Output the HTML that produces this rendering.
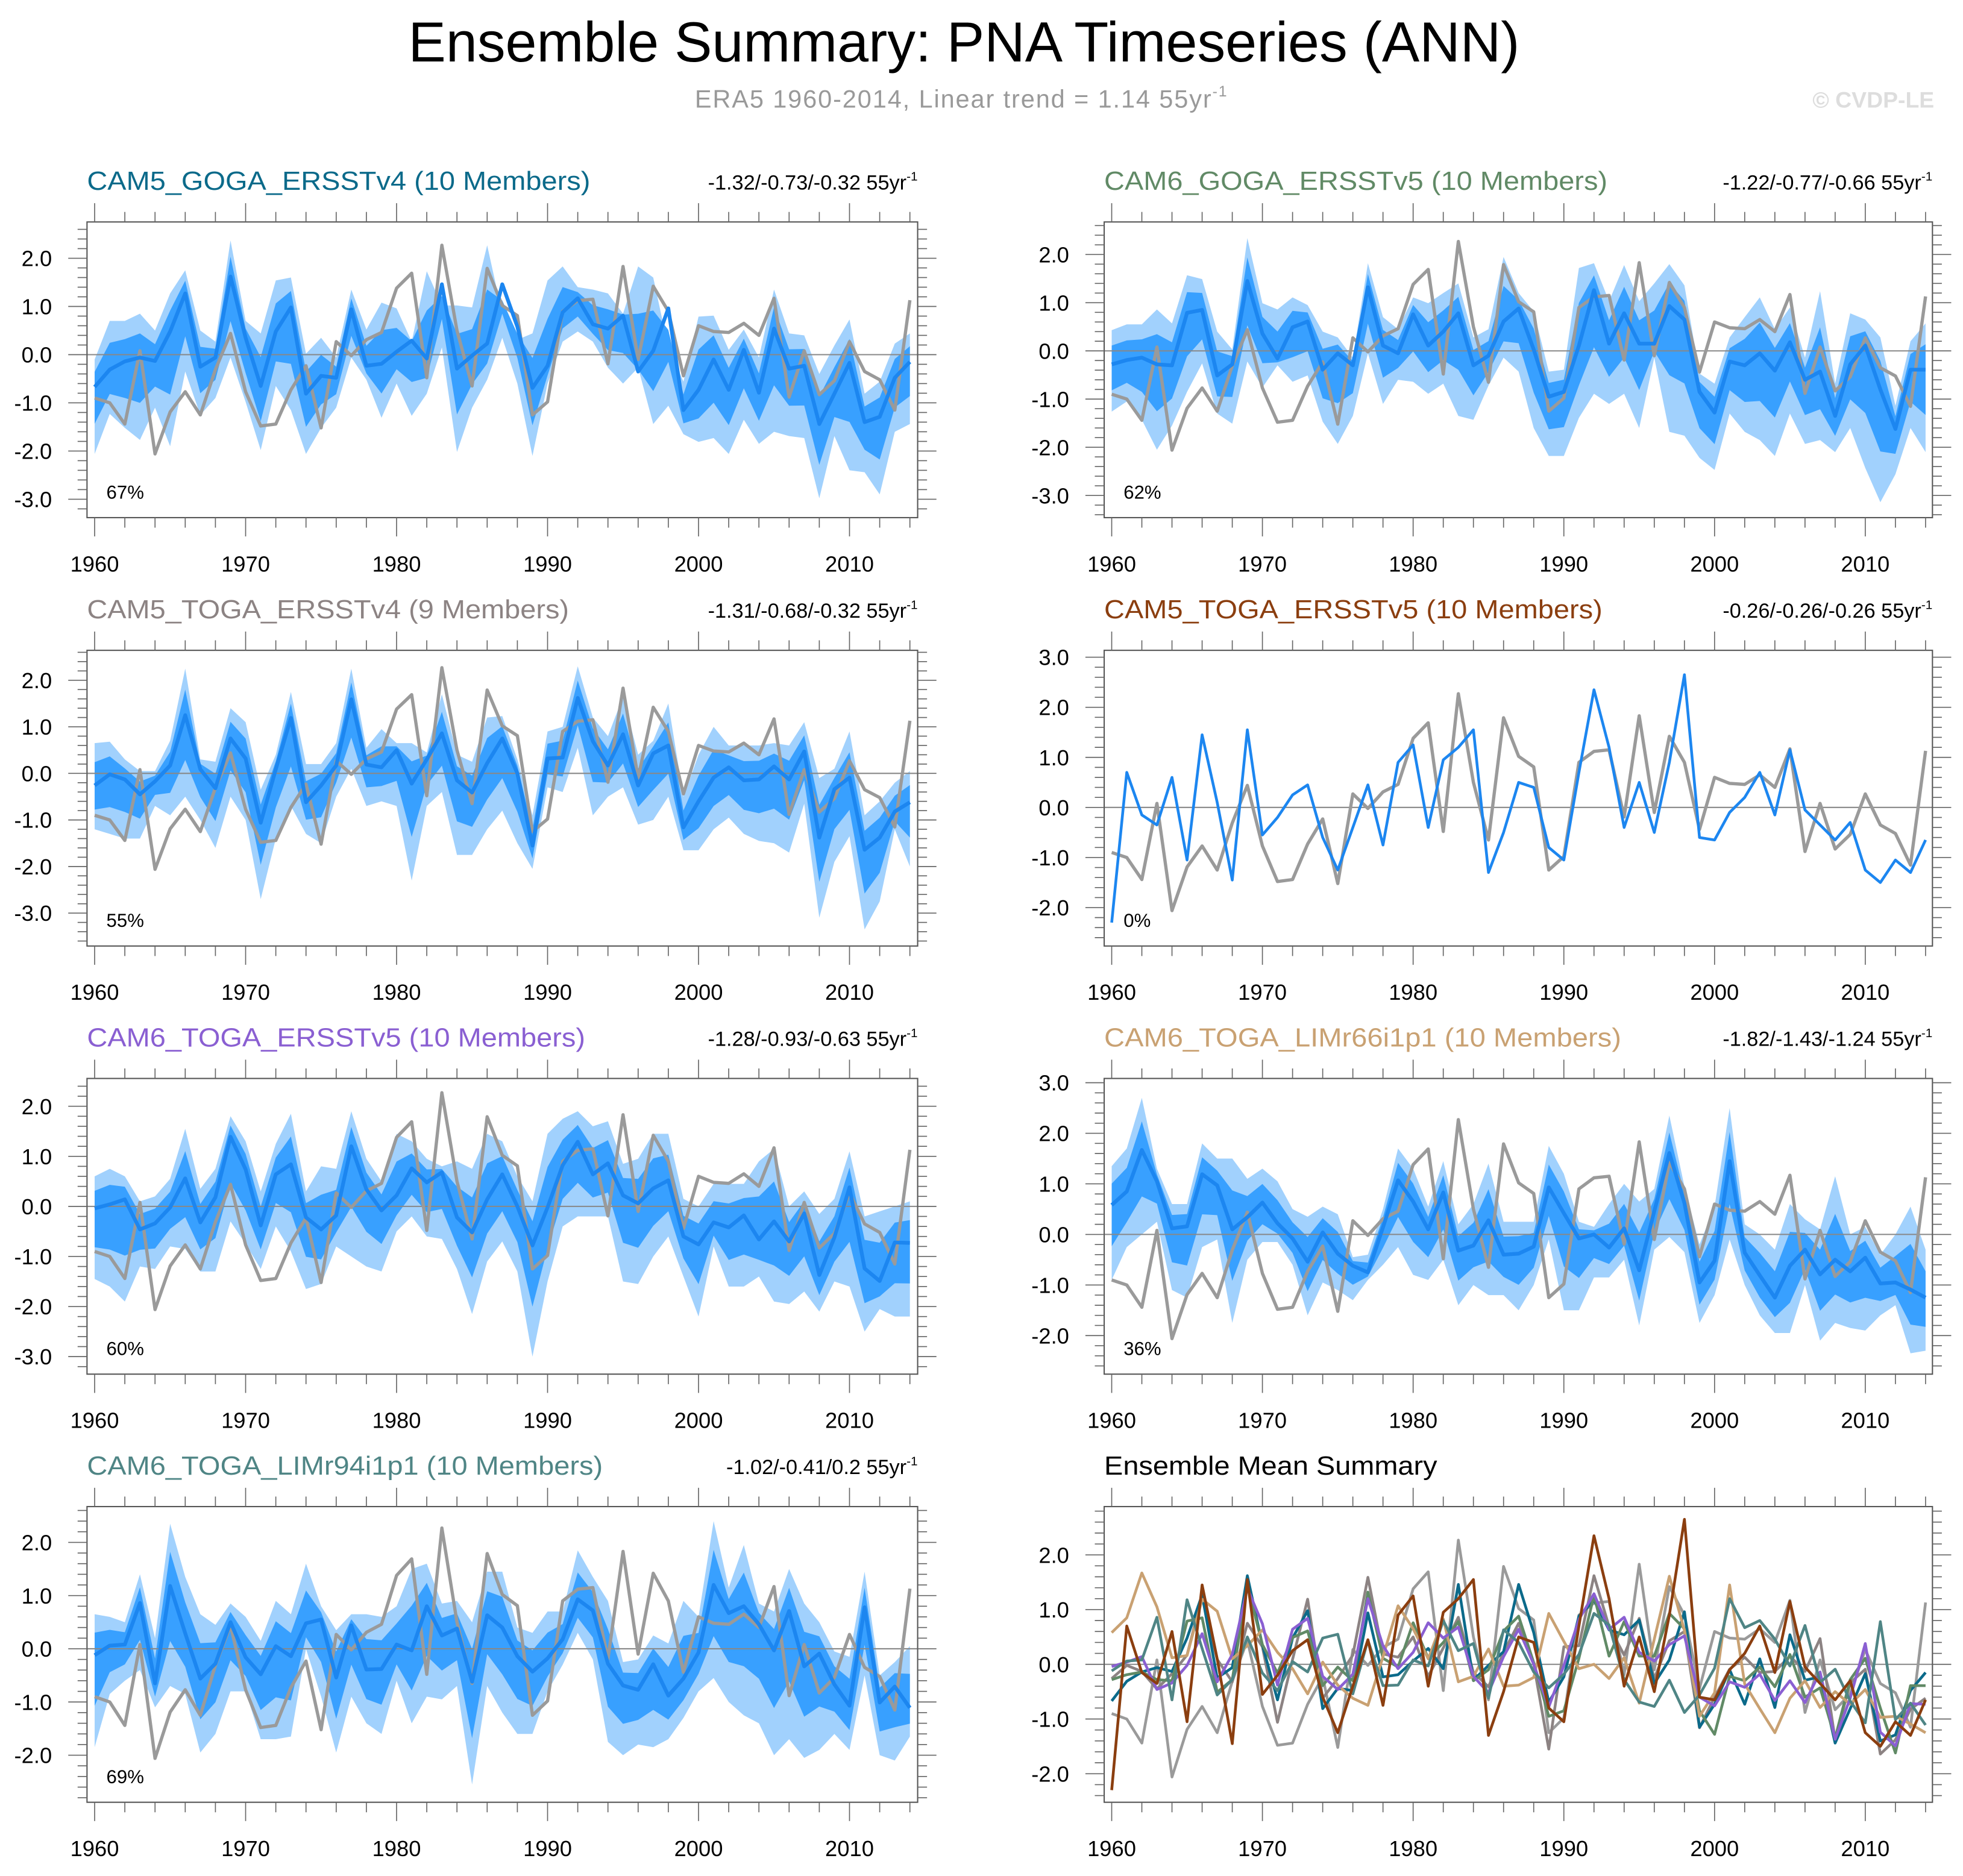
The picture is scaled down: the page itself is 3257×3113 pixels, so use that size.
<!DOCTYPE html>
<html><head><meta charset="utf-8"><title>Ensemble Summary: PNA Timeseries (ANN)</title>
<style>html,body{margin:0;padding:0;background:#fff}svg{display:block}text{font-family:"Liberation Sans",Arial,sans-serif}</style>
</head><body>
<svg id="fig" xmlns="http://www.w3.org/2000/svg" width="3257" height="3113" viewBox="0 0 1568 1498.6" preserveAspectRatio="none">
<rect x="0" y="0" width="1568" height="1498.6" fill="#fff"/>
<text x="770" y="49" font-size="45" text-anchor="middle" fill="#000">Ensemble Summary: PNA Timeseries (ANN)</text>
<text x="555" y="86" font-size="20" fill="#999" textLength="425">ERA5 1960-2014, Linear trend = 1.14 55yr<tspan font-size="12" dy="-9">-1</tspan></text>
<text x="1545" y="86" font-size="18" font-weight="bold" text-anchor="end" fill="#ddd">© CVDP-LE</text>
<g id="panels"></g>
</svg>
<script>
const years = [];
for (let y = 1960; y <= 2014; y++) years.push(y);

const era5 = [-0.9,-1.0,-1.44,0.08,-2.06,-1.19,-0.77,-1.25,-0.31,0.44,-0.77,-1.48,-1.44,-0.73,-0.23,-1.52,0.27,-0.02,0.31,0.46,1.38,1.69,-0.48,2.27,0.5,-0.65,1.79,1.02,0.81,-1.25,-0.98,0.9,1.12,1.15,-0.19,1.83,-0.1,1.42,0.9,-0.44,0.6,0.48,0.46,0.65,0.4,1.17,-0.88,0.08,-0.83,-0.54,0.27,-0.35,-0.52,-1.15,1.13];

const p1Mean = [-0.67,-0.31,-0.14,-0.06,-0.13,0.48,1.27,-0.25,-0.06,1.62,0.35,-0.65,0.48,0.98,-0.81,-0.44,-0.48,0.94,-0.23,-0.19,0.06,0.29,-0.08,1.46,-0.29,-0.02,0.23,1.46,0.58,-0.69,-0.23,0.88,1.17,0.63,0.54,0.81,-0.35,0.08,0.96,-1.15,-0.73,-0.1,-0.73,0.1,-0.79,0.54,-0.29,-0.23,-1.44,-0.81,-0.17,-1.4,-1.29,-0.48,-0.15];
const p1Hi = [-0.1,0.7,0.7,0.85,0.5,1.27,1.75,0.5,0.27,2.37,0.7,0.44,1.54,1.6,0.02,0.35,-0.06,1.35,0.52,1.08,0.96,0.27,1.73,1.02,1.02,0.98,2.27,0.85,0.31,0.44,1.54,1.83,1.4,1.35,1.27,0.85,1.83,1.6,0.15,-0.56,0.79,0.81,0.1,0.52,-0.06,1.35,0.44,0.4,-0.4,0.19,0.73,-0.81,-0.56,0.23,0.44];
const p1Lo = [-2.06,-1.23,-1.52,-1.77,-1.1,-1.9,-0.35,-1.25,-0.9,-0.06,-0.98,-1.98,-0.65,-1.15,-2.06,-1.52,-1.1,-0.06,-0.52,-1.31,-0.6,-1.27,-0.81,0.15,-2.02,-1.1,-0.52,0.35,-0.6,-2.1,-0.6,0.27,0.48,0.27,-0.27,-0.6,-0.27,-1.44,-1.06,-1.65,-1.81,-1.73,-2.06,-1.35,-1.85,-1.6,-1.69,-1.73,-2.98,-1.69,-2.4,-2.44,-2.9,-1.6,-1.44];

const p2Mean = [-0.28,-0.19,-0.14,-0.28,-0.3,0.79,0.85,-0.51,-0.28,1.45,0.36,-0.16,0.49,0.61,-0.39,-0.05,-0.3,1.32,0.11,-0.05,0.76,0.11,0.4,0.78,-0.3,-0.1,0.61,0.88,0.03,-0.95,-0.85,0.11,1.26,0.15,0.78,0.15,0.15,0.93,0.65,-0.85,-1.28,-0.22,-0.3,-0.05,-0.41,0.18,-0.6,-0.43,-1.35,-0.28,0.11,-0.8,-1.62,-0.39,-0.39];
const p2Hi = [0.43,0.55,0.55,0.86,0.57,1.57,1.49,0.4,0.03,2.34,0.99,0.86,1.11,0.95,0.4,0.28,-0.14,1.82,0.7,0.45,1.11,0.99,1.2,1.4,0.28,0.45,1.95,1.2,0.82,-0.43,-0.39,1.72,1.82,1.03,1.78,1.03,1.4,1.8,1.36,-0.47,-0.68,0.28,0.7,1.11,0.45,0.9,-0.14,1.24,-0.68,0.78,0.65,0.28,-1.14,0.2,0.57];
const p2Lo = [-1.26,-1.05,-1.43,-2.05,-1.55,-0.85,-0.26,-1.3,-1.51,-0.22,-0.76,-0.3,-0.64,-0.51,-1.47,-1.93,-1.35,-0.05,-1.1,-0.6,-0.64,-0.89,-0.68,-1.35,-1.43,-0.72,-0.14,-0.43,-1.6,-2.18,-2.18,-1.39,-0.89,-1.1,-0.89,-1.6,-0.14,-1.68,-1.76,-2.22,-2.47,-1.3,-1.68,-1.85,-2.18,-1.3,-1.93,-1.85,-2.1,-1.6,-2.43,-3.14,-2.56,-1.6,-2.1];

const p3Mean = [-0.26,-0.02,-0.13,-0.45,-0.17,0.17,1.25,0.09,-0.32,0.75,0.32,-1.06,0.09,1.19,-0.62,-0.26,0.17,1.59,0.19,0.13,0.5,-0.22,0.3,0.86,-0.15,-0.41,0.22,0.75,0.0,-1.55,0.32,0.34,1.62,0.69,0.17,0.84,-0.26,0.43,0.6,-1.16,-0.6,-0.09,0.13,-0.15,-0.13,0.15,-0.13,0.47,-1.38,-0.34,-0.09,-1.64,-1.38,-0.82,-0.62];
const p3Hi = [0.65,0.68,0.3,0.05,0.05,0.7,2.25,0.3,0.25,1.4,1.1,-0.35,0.4,1.75,0.2,0.2,0.65,2.25,0.55,0.95,0.65,0.65,0.45,1.7,0.4,0.25,1.2,1.23,0.3,-0.9,0.9,1.0,2.3,1.2,0.8,1.65,0.4,0.7,1.5,-0.5,0.4,1.0,0.6,0.6,0.6,0.65,0.6,1.1,-0.1,0.1,0.9,-0.9,-0.6,-0.2,0.05];
const p3Lo = [-1.2,-1.3,-1.4,-1.4,-0.7,-0.9,-0.5,-1.0,-1.6,-0.5,-1.0,-2.7,-1.4,-0.7,-1.3,-1.5,-0.5,0.1,-0.7,-0.6,-0.7,-2.3,-0.7,-0.4,-1.75,-1.75,-1.2,-0.8,-1.5,-2.05,-0.3,-0.4,0.55,-0.9,-0.5,-0.3,-1.1,-1.0,-0.5,-1.65,-1.65,-1.2,-0.95,-1.3,-1.45,-1.5,-1.7,-0.65,-3.1,-1.9,-1.35,-3.35,-2.75,-1.2,-2.0];

const p4Member = [-2.3,0.7,-0.15,-0.35,0.6,-1.05,1.45,0.1,-1.45,1.55,-0.55,-0.2,0.25,0.45,-0.6,-1.25,-0.4,0.45,-0.75,0.9,1.25,-0.4,0.95,1.2,1.55,-1.3,-0.5,0.5,0.4,-0.8,-1.05,0.7,2.35,1.2,-0.4,0.5,-0.5,0.9,2.65,-0.6,-0.65,-0.1,0.2,0.7,-0.15,1.15,-0.05,-0.35,-0.65,-0.3,-1.25,-1.5,-1.05,-1.3,-0.65];

const p5Mean = [-0.04,0.04,0.14,-0.46,-0.34,-0.02,0.56,-0.32,0.18,1.39,0.74,-0.38,0.64,0.84,-0.22,-0.46,-0.18,1.2,0.34,-0.08,0.22,0.76,0.48,0.68,-0.22,-0.52,0.14,0.64,0.0,-0.78,-0.02,0.82,1.29,0.64,0.86,0.22,0.06,0.36,0.52,-0.6,-0.76,-0.32,-0.42,-0.18,-0.66,-0.3,-0.7,-0.14,-1.37,-0.62,0.38,-1.24,-1.49,-0.72,-0.73];
const p5Hi = [0.6,0.75,0.6,0.1,0.2,0.55,1.55,0.35,0.75,1.8,1.3,0.3,1.25,1.85,0.3,0.8,0.75,1.9,0.95,0.5,1.45,1.3,0.95,0.8,0.9,0.75,1.45,1.3,0.6,0.1,1.45,1.75,1.9,1.6,1.7,0.85,0.95,1.45,1.45,0.15,0.0,0.45,0.45,0.45,0.9,1.15,0.0,0.3,-0.15,0.15,1.1,-0.2,-0.1,0.0,0.1];
const p5Lo = [-1.45,-1.6,-1.9,-1.2,-1.25,-0.8,-0.85,-1.3,-1.3,-0.3,-0.75,-1.25,-0.4,-0.9,-1.65,-1.55,-0.8,-1.0,-1.2,-1.3,-0.5,-0.2,-0.6,-0.65,-1.25,-2.15,-1.1,-0.7,-1.3,-3.0,-1.5,-0.4,-0.2,-0.2,-0.2,-1.5,-1.55,-1.0,-0.6,-1.4,-2.2,-0.8,-1.6,-1.6,-1.4,-1.9,-1.95,-1.7,-2.1,-1.5,-1.6,-2.5,-2.05,-2.2,-2.2];

const p6Mean = [0.58,0.85,1.67,1.05,0.12,0.16,1.19,0.97,0.1,0.34,0.63,0.22,-0.08,-0.54,0.04,-0.38,-0.62,-0.75,0.14,1.07,0.65,0.1,0.83,-0.32,-0.22,0.28,-0.4,-0.38,-0.24,0.93,0.42,-0.08,0.0,-0.26,0.12,-0.71,0.46,1.61,0.62,-0.95,-0.52,1.45,-0.36,-0.81,-1.25,-0.62,-0.3,-0.79,-0.5,-0.73,-0.46,-0.97,-0.95,-1.09,-1.25];
const p6Hi = [1.35,1.7,2.7,1.3,0.6,0.6,1.8,1.5,1.5,1.1,1.3,1.05,0.5,0.35,0.55,0.4,-0.45,-0.4,0.5,1.7,1.3,0.55,1.45,0.2,0.6,1.4,0.25,0.25,0.25,1.75,1.2,0.25,0.15,0.6,1.0,0.65,0.9,2.35,0.95,-0.2,0.55,2.5,0.2,0.0,-0.3,0.6,0.3,0.1,1.15,0.0,0.15,-0.4,0.0,0.55,-0.3];
const p6Lo = [-0.9,-0.25,0.0,0.25,-1.1,-1.25,-0.25,-0.1,-1.75,-0.5,-0.15,-0.15,-0.6,-1.6,-0.95,-1.1,-1.3,-0.9,-0.6,-0.25,-0.8,-0.9,-0.5,-1.4,-1.0,-1.2,-1.2,-1.5,-1.0,-0.1,-1.5,-1.5,-0.85,-0.85,-0.5,-1.8,-0.3,-0.05,-0.35,-1.75,-1.2,-0.1,-1.0,-1.6,-1.95,-1.95,-1.0,-2.1,-1.75,-1.85,-1.9,-1.6,-1.4,-2.35,-2.3];

const p7Mean = [-0.12,0.06,0.08,0.86,-0.65,1.18,0.29,-0.56,-0.28,0.5,-0.16,-0.48,0.05,-0.14,0.48,0.55,-0.54,0.44,-0.39,-0.38,0.08,-0.03,0.8,0.25,0.38,-0.62,0.63,0.4,-0.14,-0.43,-0.18,0.18,0.93,0.72,-0.28,-0.69,-0.77,-0.29,-0.88,-0.56,-0.07,1.2,0.67,0.8,0.46,-0.03,0.71,-0.33,-0.09,-0.67,-1.07,0.78,-1.01,-0.71,-1.11];
const p7Hi = [0.65,0.6,0.5,1.4,0.2,2.35,1.35,0.65,0.45,0.85,0.6,0.15,0.9,0.65,1.6,0.8,0.35,0.65,0.65,0.6,0.8,1.5,1.6,0.85,0.9,0.5,1.45,1.45,0.4,0.3,0.7,0.7,1.85,1.35,0.9,-0.25,-0.2,0.25,0.1,0.9,0.6,2.4,1.15,1.95,0.85,0.7,1.5,0.85,0.5,-0.05,-0.15,1.45,-0.5,-0.25,0.05];
const p7Lo = [-1.85,-0.85,-0.6,-0.4,-1.1,-0.7,-0.85,-1.95,-1.6,-0.8,-0.8,-1.7,-1.7,-1.65,0.0,-0.9,-1.95,-0.9,-1.4,-1.6,-0.6,-1.4,-0.9,-0.95,-0.7,-2.55,-0.7,-1.2,-1.6,-1.6,-0.8,-0.3,0.3,-0.2,-1.75,-2.0,-1.8,-1.85,-1.7,-1.3,-0.8,-0.55,-1.0,-1.25,-1.4,-2.0,-1.7,-2.05,-1.9,-1.6,-1.9,-0.5,-2.0,-2.1,-1.65];

const ticks23 = [2, 1, 0, -1, -2, -3];
const ticks32 = [3, 2, 1, 0, -1, -2];
const ticks22 = [2, 1, 0, -1, -2];
const xTickLabels = [1960, 1970, 1980, 1990, 2000, 2010];
const titles = ["CAM5_GOGA_ERSSTv4 (10 Members)","CAM6_GOGA_ERSSTv5 (10 Members)","CAM5_TOGA_ERSSTv4 (9 Members)","CAM5_TOGA_ERSSTv5 (10 Members)","CAM6_TOGA_ERSSTv5 (10 Members)","CAM6_TOGA_LIMr66i1p1 (10 Members)","CAM6_TOGA_LIMr94i1p1 (10 Members)","Ensemble Mean Summary"];
const trends = ["-1.32/-0.73/-0.32 55yr","-1.22/-0.77/-0.66 55yr","-1.31/-0.68/-0.32 55yr","-0.26/-0.26/-0.26 55yr","-1.28/-0.93/-0.63 55yr","-1.82/-1.43/-1.24 55yr","-1.02/-0.41/0.2 55yr",""];
const pcts = ["67%","62%","55%","0%","60%","36%","69%",""];

/* layout (not data) */
const NS = "http://www.w3.org/2000/svg";
const COLS = [{x0:69.5,x1:733,xa:75.6,xb:726.8},{x0:882,x1:1543.6,xa:888,xb:1538.1}];
const ROWS = [177.3,519.5,861.5,1203.5];
const BOXH = 236.2;
const DARKF = 0.55;
const titleW = [402,402,385,398,398,413,412,266];
const colors = ["#0b6a8a","#618a66","#8c8383","#8b3e0f","#8a5fd2","#c9a172","#4f8585","#000000"];
const panels = [
 {c:0,r:0,zero:283.3,unit:38.5,ticks:ticks23,mean:p1Mean,hi:p1Hi,lo:p1Lo},
 {c:1,r:0,zero:280.3,unit:38.5,ticks:ticks23,mean:p2Mean,hi:p2Hi,lo:p2Lo},
 {c:0,r:1,zero:617.8,unit:37.2,ticks:ticks23,mean:p3Mean,hi:p3Hi,lo:p3Lo},
 {c:1,r:1,zero:645,unit:40,ticks:ticks32,member:p4Member},
 {c:0,r:2,zero:963.7,unit:40,ticks:ticks23,mean:p5Mean,hi:p5Hi,lo:p5Lo},
 {c:1,r:2,zero:986.1,unit:40.4,ticks:ticks32,mean:p6Mean,hi:p6Hi,lo:p6Lo},
 {c:0,r:3,zero:1317.1,unit:42.5,ticks:ticks22,mean:p7Mean,hi:p7Hi,lo:p7Lo},
 {c:1,r:3,zero:1329.5,unit:43.7,ticks:ticks22,summary:true}
];

function mk(tag, attrs, parent) {
  const e = document.createElementNS(NS, tag);
  for (const k in attrs) e.setAttribute(k, attrs[k]);
  parent.appendChild(e);
  return e;
}
const root = document.getElementById("panels");

panels.forEach((p, i) => {
  const col = COLS[p.c];
  const top = ROWS[p.r], bot = top + BOXH;
  const xs = yr => col.xa + (yr - 1960) * (col.xb - col.xa) / 54;
  const ys = v => p.zero - v * p.unit;
  const g = mk("g", {}, root);
  
  

  const cid = "clip" + i;
  const cp = mk("clipPath", {id: cid}, g);
  mk("rect", {x: col.x0, y: top, width: col.x1 - col.x0, height: BOXH}, cp);
  const plot = mk("g", {"clip-path": "url(#" + cid + ")"}, g);

  const t = mk("text", {x: col.x0, y: top - 25.6, "font-size": 21, fill: colors[i], textLength: titleW[i], lengthAdjust: "spacingAndGlyphs"}, g);
  t.textContent = titles[i];
  
  
  if (trends[i]) {
    const tr = mk("text", {x: col.x1, y: top - 26, "font-size": 16.5, "text-anchor": "end", fill: "#000"}, g);
    tr.textContent = trends[i];
    const sup = mk("tspan", {"font-size": 10, dy: -7}, tr);
    sup.textContent = "-1";
    
    
  }

  const band = (hiArr, loArr, fill, name) => {
    let d = "";
    years.forEach((yr, k) => { d += (k ? "L" : "M") + xs(yr).toFixed(2) + "," + ys(hiArr[k]).toFixed(2); });
    for (let k = years.length - 1; k >= 0; k--) d += "L" + xs(years[k]).toFixed(2) + "," + ys(loArr[k]).toFixed(2);
    const e = mk("path", {d: d + "Z", fill: fill}, plot);
    
    
  };
  const line = (arr, stroke, w, name) => {
    let d = "";
    years.forEach((yr, k) => { d += (k ? "L" : "M") + xs(yr).toFixed(2) + "," + ys(arr[k]).toFixed(2); });
    const e = mk("path", {d: d, fill: "none", stroke: stroke, "stroke-width": w, "stroke-linejoin": "round"}, plot);
    
    
  };

  if (p.mean) {
    band(p.hi, p.lo, "#a1d1fd", "ensemble-range-band");
    const dHi = p.mean.map((m, k) => m + DARKF * (p.hi[k] - m));
    const dLo = p.mean.map((m, k) => m + DARKF * (p.lo[k] - m));
    band(dHi, dLo, "#38a0ff", "ensemble-iqr-band");
  }
  const z = mk("line", {x1: col.x0, x2: col.x1, y1: ys(0), y2: ys(0), stroke: "#888", "stroke-width": 1}, plot);
  
  

  if (p.summary) {
    line(era5, "#9a9a9a", 2.2, "era5-line");
    line(p3Mean, colors[2], 2.2, "cam5-toga-ersstv4-mean");
    line(p1Mean, colors[0], 2.2, "cam5-goga-ersstv4-mean");
    line(p2Mean, colors[1], 2.2, "cam6-goga-ersstv5-mean");
    line(p6Mean, colors[5], 2.2, "cam6-toga-limr66-mean");
    line(p5Mean, colors[4], 2.2, "cam6-toga-ersstv5-mean");
    line(p7Mean, colors[6], 2.2, "cam6-toga-limr94-mean");
    line(p4Member, colors[3], 2.2, "cam5-toga-ersstv5-mean");
  } else {
    line(era5, "#9a9a9a", 2.6, "era5-line");
    if (p.mean) line(p.mean, "#1c86f0", 3, "ensemble-mean-line");
    else line(p.member, "#1c86f0", 2.2, "member-line");
  }

  const b = mk("rect", {x: col.x0, y: top, width: col.x1 - col.x0, height: BOXH, fill: "none", stroke: "#555", "stroke-width": 1}, g);
  
  

  for (let yr = 1960; yr <= 2014; yr += 2) {
    const maj = (yr % 10 === 0);
    const L = maj ? 15 : 8;
    const x = xs(yr);
    mk("line", {x1: x, x2: x, y1: bot, y2: bot + L, stroke: "#666", "stroke-width": 0.8}, g);
    mk("line", {x1: x, x2: x, y1: top, y2: top - L, stroke: "#666", "stroke-width": 0.8}, g);
  }
  xTickLabels.forEach(yr => {
    const e = mk("text", {x: xs(yr), y: bot + 43, "font-size": 17.5, "text-anchor": "middle", fill: "#000"}, g);
    e.textContent = yr;
    
    
  });
  const vTop = (p.zero - top) / p.unit, vBot = (p.zero - bot) / p.unit;
  for (let v = Math.ceil(vBot * 5) / 5; v <= vTop + 1e-6; v += 0.2) {
    const vv = Math.round(v * 5) / 5;
    const maj = Math.abs(vv - Math.round(vv)) < 1e-6;
    const L = maj ? 15 : 7.5;
    const y = ys(vv);
    mk("line", {x1: col.x0, x2: col.x0 - L, y1: y, y2: y, stroke: "#666", "stroke-width": 0.8}, g);
    mk("line", {x1: col.x1, x2: col.x1 + L, y1: y, y2: y, stroke: "#666", "stroke-width": 0.8}, g);
  }
  p.ticks.forEach(v => {
    const e = mk("text", {x: col.x0 - 28, y: ys(v) + 6.3, "font-size": 17.5, "text-anchor": "end", fill: "#000"}, g);
    e.textContent = v.toFixed(1);
    
    
  });
  if (pcts[i]) {
    const e = mk("text", {x: col.x0 + 15.5, y: top + 221, "font-size": 15, fill: "#000"}, g);
    e.textContent = pcts[i];
    
    
  }
});
</script>
</body></html>
